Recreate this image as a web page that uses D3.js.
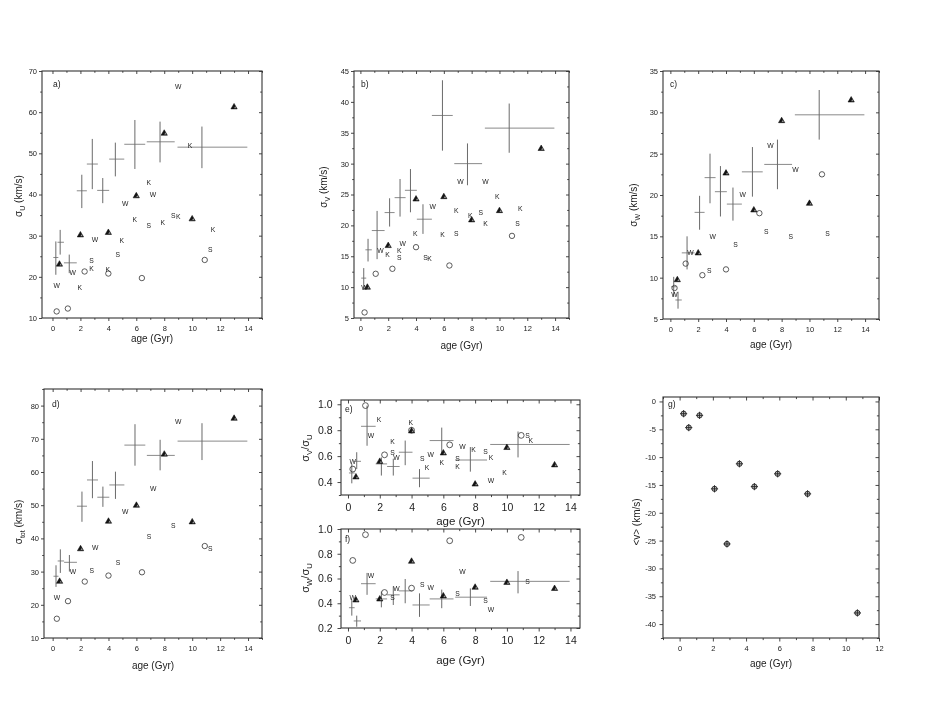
<!DOCTYPE html>
<html><head><meta charset="utf-8">
<script src="https://cdn.jsdelivr.net/npm/d3@7"></script>
<style>
body{margin:0;background:#fff}
svg{display:block;will-change:transform}
text{font-family:"Liberation Sans",Arial,sans-serif;fill:#222;-webkit-font-smoothing:antialiased}
</style>
</head><body>
<svg id="chart" width="926" height="708"></svg>
<script>
// ---- age bins (crosses) ----
const binAge = [0.24, 0.55, 1.2, 2.1, 2.85, 3.6, 4.5, 5.9, 7.7, 10.7];
const binLo  = [0.06, 0.36, 0.82, 1.74, 2.46, 3.2, 4.06, 5.14, 6.75, 8.95];
const binHi  = [0.42, 0.82, 1.74, 2.46, 3.25, 4.06, 5.14, 6.64, 8.75, 13.95];
// ---- other samples' ages ----
const triAge  = [0.5, 2, 4, 6, 8, 10, 13];
const circAge = [0.3, 1.1, 2.3, 4.0, 6.4, 10.9];
const wAge    = [0.3, 1.45, 3.05, 5.2, 7.2, 9.0];
const kAge    = [1.95, 2.8, 3.95, 4.97, 5.9, 6.9, 7.9, 9.0, 9.85, 11.5];
const sAge    = [2.8, 4.68, 6.9, 8.65, 11.3];

// ---- panel a: sigma_U ----
const aBin = [24.7, 28.4, 23.4, 40.9, 47.4, 41.0, 48.6, 52.2, 52.8, 51.5];
const aBinLo = [20.5, 25.4, 20.9, 36.7, 41.3, 37.9, 44.4, 46.2, 47.8, 46.4];
const aBinHi = [28.6, 31.4, 25.4, 44.8, 53.5, 44.0, 52.6, 58.1, 57.7, 56.5];
const aTri = [23.1, 30.2, 30.8, 39.7, 54.9, 34.1, 61.3];
const aCirc = [11.6, 12.3, 21.3, 20.8, 19.7, 24.1];
const aW = [17.9, 21.1, 29.0, 37.9, 40.1, 66.2];
const aK = [17.3, 22.1, 21.7, 28.8, 33.9, 42.9, 33.3, 34.6, 51.9, 31.5];
const aS = [23.9, 25.5, 32.5, 34.9, 26.6];
// ---- panel b: sigma_V ----
const bBin = [11.46, 16.04, 19.16, 22.07, 24.49, 25.68, 21.0, 37.8, 30.0, 35.75];
const bBinLo = [9.58, 14.15, 14.53, 19.81, 21.42, 22.12, 18.62, 32.1, 26.5, 31.76];
const bBinHi = [13.08, 17.82, 22.34, 24.39, 27.51, 29.12, 23.42, 43.5, 33.27, 39.73];
const bTri = [10.0, 16.74, 24.28, 24.66, 20.9, 22.4, 32.46];
const bCirc = [5.9, 12.16, 12.97, 16.47, 13.5, 18.3];
const bW = [9.95, 15.93, 17.1, 23.0, 27.1, 27.1];
const bK = [15.34, 15.88, 18.62, 14.69, 18.57, 22.4, 21.6, 20.35, 24.65, 22.77];
const bS = [14.85, 14.85, 18.62, 22.07, 20.24];
// ---- panel c: sigma_W ----
const cBin = [8.9, 7.3, 13.0, 17.9, 22.1, 20.4, 18.9, 22.8, 23.7, 29.7];
const cBinLo = [7.7, 6.25, 11.0, 15.8, 19.0, 17.4, 16.9, 19.8, 20.7, 26.7];
const cBinHi = [10.1, 8.3, 15.0, 19.9, 25.0, 23.5, 20.9, 25.8, 26.7, 32.7];
const cTri = [9.76, 13.0, 22.66, 18.2, 29.0, 19.0, 31.5];
const cCirc = [8.75, 11.7, 10.3, 11.0, 17.8, 22.5];
const cW = [8.0, 13.0, 15.0, 20.0, 26.0, 23.1];
const cS = [10.9, 14.0, 15.6, 15.0, 15.3];
// ---- panel d: sigma_tot ----
const dBin = [28.6, 33.2, 32.8, 49.7, 57.6, 52.4, 56.1, 68.1, 65.0, 69.3];
const dBinLo = [25.4, 29.6, 30.0, 45.0, 52.1, 49.5, 51.9, 61.9, 60.5, 63.6];
const dBinHi = [31.9, 36.7, 35.0, 54.1, 63.3, 55.6, 60.1, 74.4, 69.7, 74.7];
const dTri = [27.1, 36.9, 45.2, 50.0, 65.4, 45.0, 76.2];
const dCirc = [15.8, 21.1, 27.0, 28.8, 29.8, 37.7];
const dW = [22.1, 30.1, 37.2, 48.2, 54.9, 75.2];
const dS = [30.4, 32.6, 40.7, 43.8, 36.8];
// ---- panel e: sigma_V / sigma_U ----
const eBin = [0.47, 0.56, 0.83, 0.54, 0.52, 0.63, 0.43, 0.72, 0.57, 0.69];
const eBinLo = [0.39, 0.50, 0.68, 0.45, 0.45, 0.53, 0.36, 0.62, 0.48, 0.59];
const eBinHi = [0.54, 0.63, 0.99, 0.59, 0.58, 0.72, 0.50, 0.82, 0.67, 0.79];
const eTri = [0.44, 0.56, 0.795, 0.625, 0.385, 0.667, 0.533];
const eCirc = [0.50, 0.99, 0.61, 0.80, 0.687, 0.76];
const eW = [0.556, 0.76, 0.59, 0.61, 0.677, 0.41];
const eK = [0.885, 0.715, 0.86, 0.51, 0.55, 0.52, 0.65, 0.587, 0.474, 0.72];
const eS = [0.625, 0.58, 0.58, 0.633, 0.76];
// ---- panel f: sigma_W / sigma_U ----
const fBin = [0.364, 0.257, 0.558, 0.435, 0.468, 0.50, 0.386, 0.435, 0.449, 0.577];
const fBinLo = [0.30, 0.21, 0.468, 0.367, 0.386, 0.40, 0.29, 0.36, 0.378, 0.48];
const fBinHi = [0.43, 0.30, 0.645, 0.495, 0.536, 0.596, 0.48, 0.51, 0.52, 0.66];
const fTri = [0.427, 0.435, 0.74, 0.46, 0.53, 0.569, 0.52];
const fCirc = [0.746, 0.954, 0.487, 0.522, 0.905, 0.932];
const fW = [0.446, 0.62, 0.52, 0.53, 0.654, 0.35];
const fS = [0.45, 0.55, 0.48, 0.42, 0.577];
// ---- panel g: mean V ----
const gV = [-2.2, -4.7, -2.5, -15.7, -25.6, -11.2, -15.3, -13.0, -16.6, -38.0];

// ---- tick values ----
const xTicks14 = [0, 2, 4, 6, 8, 10, 12, 14];
const xTicks12 = [0, 2, 4, 6, 8, 10, 12];

const svg = d3.select("#chart");
const FONT = '"Liberation Sans",Arial,sans-serif';

function addAxes(g, x, y, o) {
  const [l, r, t, b] = [o.l, o.r, o.t, o.b];
  const xMinor = d3.range(Math.ceil(o.xd[0]), Math.floor(o.xd[1]) + 0.001, 1).filter(v => !o.xt.includes(v));
  const yMinor = d3.range(o.yMinorStart, o.yd[1] + 1e-9, o.yMinorStep).filter(v => !o.yt.some(t2 => Math.abs(t2 - v) < 1e-9) && v >= o.yd[0] - 1e-9);
  const fmtY = o.yfmt || (d => d);
  g.append("g").attr("transform", `translate(0,${b})`)
    .call(d3.axisBottom(x).tickValues(o.xt).tickSize(o.ts).tickPadding(o.xpad).tickFormat(d => d));
  g.append("g").attr("transform", `translate(0,${b})`)
    .call(d3.axisBottom(x).tickValues(xMinor).tickSize(o.ts * 0.6).tickFormat(""));
  g.append("g").attr("transform", `translate(0,${t})`)
    .call(d3.axisBottom(x).tickValues(o.xt).tickSize(o.ts).tickFormat(""));
  g.append("g").attr("transform", `translate(0,${t})`)
    .call(d3.axisBottom(x).tickValues(xMinor).tickSize(o.ts * 0.6).tickFormat(""));
  g.append("g").attr("transform", `translate(${l},0)`)
    .call(d3.axisLeft(y).tickValues(o.yt).tickSize(o.ts).tickPadding(o.ypad).tickFormat(fmtY));
  g.append("g").attr("transform", `translate(${l},0)`)
    .call(d3.axisLeft(y).tickValues(yMinor).tickSize(o.ts * 0.6).tickFormat(""));
  g.append("g").attr("transform", `translate(${r},0)`)
    .call(d3.axisLeft(y).tickValues(o.yt).tickSize(o.ts).tickFormat(""));
  g.append("g").attr("transform", `translate(${r},0)`)
    .call(d3.axisLeft(y).tickValues(yMinor).tickSize(o.ts * 0.6).tickFormat(""));
  g.selectAll(".domain").remove();
  g.selectAll(".tick line").attr("stroke", "#333").attr("stroke-width", 0.9);
  g.selectAll(".tick text").attr("font-family", FONT).attr("fill", "#222").attr("font-size", o.tfs);
  g.append("rect").attr("x", l).attr("y", t).attr("width", r - l).attr("height", b - t)
    .attr("fill", "none").attr("stroke", "#333").attr("stroke-width", 1.1);
}

function triPath(cx, cy, s) {
  const h = s * 0.87;
  return `M${cx},${cy - h * 0.62}L${cx + s / 2},${cy + h * 0.38}L${cx - s / 2},${cy + h * 0.38}Z`;
}

function drawPanel(o) {
  const g = svg.append("g");
  const x = d3.scaleLinear().domain(o.xd).range([o.l, o.r]);
  const y = d3.scaleLinear().domain(o.yd).range([o.b, o.t]);
  addAxes(g, x, y, o);
  const m = g.append("g");
  if (o.bin) {
    binAge.forEach((a, i) => {
      m.append("line").attr("x1", x(binLo[i])).attr("x2", x(binHi[i]))
        .attr("y1", y(o.bin[i])).attr("y2", y(o.bin[i]))
        .attr("stroke", "#8a8a8a").attr("stroke-width", 1);
      m.append("line").attr("x1", x(a)).attr("x2", x(a))
        .attr("y1", y(o.binLo[i])).attr("y2", y(o.binHi[i]))
        .attr("stroke", "#6a6a6a").attr("stroke-width", 1);
    });
  }
  if (o.circ) {
    m.selectAll(null).data(o.circ).enter().append("circle")
      .attr("cx", (d, i) => x(circAge[i])).attr("cy", d => y(d)).attr("r", o.cr)
      .attr("fill", "none").attr("stroke", "#333").attr("stroke-width", 0.8);
  }
  if (o.tri) {
    o.tri.forEach((v, i) => {
      const cx = x(triAge[i]), cy = y(v);
      m.append("path").attr("d", triPath(cx, cy, 6.3)).attr("fill", "#151515").attr("stroke", "#000").attr("stroke-width", 0.5);
      m.append("path").attr("d", triPath(cx + 1.1, cy + 0.6, 2.2)).attr("fill", "#9a9a9a");
    });
  }
  const letters = (vals, ages, ch) => {
    if (!vals) return;
    m.selectAll(null).data(vals).enter().append("text")
      .attr("x", (d, i) => x(ages[i])).attr("y", d => y(d)).attr("dy", "0.36em")
      .attr("text-anchor", "middle").attr("font-size", o.lfs).attr("fill", "#333").text(ch);
  };
  letters(o.W, wAge, "W");
  letters(o.K, kAge, "K");
  letters(o.S, sAge, "S");
  if (o.gpts) {
    o.gpts.forEach((v, i) => {
      const cx = x(binAge[i]), cy = y(v);
      m.append("circle").attr("cx", cx).attr("cy", cy).attr("r", 2.6).attr("fill", "#bbb").attr("stroke", "#222").attr("stroke-width", 0.9);
      m.append("line").attr("x1", cx - 3.6).attr("x2", cx + 3.6).attr("y1", cy).attr("y2", cy).attr("stroke", "#222").attr("stroke-width", 0.9);
      m.append("line").attr("x1", cx).attr("x2", cx).attr("y1", cy - 3.6).attr("y2", cy + 3.6).attr("stroke", "#222").attr("stroke-width", 0.9);
    });
  }
  g.append("text").attr("x", o.pl[0]).attr("y", o.pl[1]).attr("font-size", o.plfs || 8.5).text(o.name);
  g.append("text").attr("x", (o.l + o.r) / 2).attr("y", o.xty).attr("text-anchor", "middle")
    .attr("dy", "0.36em").attr("font-size", o.xtfs).text("age (Gyr)");
  const yt = g.append("text").attr("transform", `translate(${o.ytx},${o.yty}) rotate(-90)`)
    .attr("text-anchor", "middle").attr("font-size", o.ytfs);
  o.ylab.forEach(p => {
    const ts = yt.append("tspan").text(p[0]);
    if (p[1] === "sub") ts.attr("font-size", o.ytfs * 0.7).attr("dy", o.ytfs * 0.3);
    if (p[1] === "up") ts.attr("dy", -o.ytfs * 0.3);
  });
}

const common = { ts: 3, xpad: 4.5, ypad: 2, tfs: 7.5, lfs: 6.8, cr: 2.7, xt: xTicks14 };

drawPanel(Object.assign({}, common, {
  name: "a)", l: 42, r: 262, t: 71, b: 318, xd: [-0.75, 15], yd: [10, 70],
  yt: [10, 20, 30, 40, 50, 60, 70], yMinorStart: 10, yMinorStep: 5,
  bin: aBin, binLo: aBinLo, binHi: aBinHi, tri: aTri, circ: aCirc, W: aW, K: aK, S: aS,
  pl: [53, 87], xty: 338, xtfs: 10, ytx: 22, yty: 196, ytfs: 10,
  ylab: [["σ"], ["U", "sub"], ["  (km/s)", "up"]]
}));
drawPanel(Object.assign({}, common, {
  name: "b)", l: 354, r: 569, t: 71, b: 318, xd: [-0.46, 15], yd: [5, 45],
  yt: [5, 10, 15, 20, 25, 30, 35, 40, 45], yMinorStart: 5, yMinorStep: 2.5,
  bin: bBin, binLo: bBinLo, binHi: bBinHi, tri: bTri, circ: bCirc, W: bW, K: bK, S: bS,
  pl: [361, 87], xty: 345, xtfs: 10, ytx: 327, yty: 187, ytfs: 10,
  ylab: [["σ"], ["V", "sub"], ["  (km/s)", "up"]]
}));
drawPanel(Object.assign({}, common, {
  name: "c)", l: 663, r: 879, t: 71, b: 319, xd: [-0.53, 15], yd: [5, 35],
  yt: [5, 10, 15, 20, 25, 30, 35], yMinorStart: 5, yMinorStep: 2.5,
  bin: cBin, binLo: cBinLo, binHi: cBinHi, tri: cTri, circ: cCirc, W: cW, S: cS,
  pl: [670, 87], xty: 344, xtfs: 10, ytx: 637, yty: 205, ytfs: 10,
  ylab: [["σ"], ["W", "sub"], ["  (km/s)", "up"]]
}));
drawPanel(Object.assign({}, common, {
  name: "d)", l: 44, r: 262, t: 389, b: 638, xd: [-0.62, 15], yd: [10, 85],
  yt: [10, 20, 30, 40, 50, 60, 70, 80], yMinorStart: 10, yMinorStep: 5,
  bin: dBin, binLo: dBinLo, binHi: dBinHi, tri: dTri, circ: dCirc, W: dW, S: dS,
  pl: [52, 407], xty: 665, xtfs: 10, ytx: 22, yty: 522, ytfs: 10,
  ylab: [["σ"], ["tot", "sub"], ["  (km/s)", "up"]]
}));
drawPanel(Object.assign({}, common, {
  name: "e)", l: 341, r: 580, t: 400, b: 495, xd: [-0.44, 14.6], yd: [0.3, 1.033],
  yt: [0.4, 0.6, 0.8, 1.0], yMinorStart: 0.3, yMinorStep: 0.1, yfmt: d3.format(".1f"),
  xpad: 5, ypad: 5, ts: 3.5, tfs: 10.5, lfs: 6.8, cr: 2.9,
  bin: eBin, binLo: eBinLo, binHi: eBinHi, tri: eTri, circ: eCirc, W: eW, K: eK, S: eS,
  pl: [345, 412], plfs: 8.5, xty: 521, xtfs: 11.5, ytx: 309, yty: 448, ytfs: 11,
  ylab: [["σ"], ["V", "sub"], ["/σ", "up"], ["U", "sub"]]
}));
drawPanel(Object.assign({}, common, {
  name: "f)", l: 341, r: 580, t: 529, b: 628, xd: [-0.44, 14.6], yd: [0.2, 1.0],
  yt: [0.2, 0.4, 0.6, 0.8, 1.0], yMinorStart: 0.3, yMinorStep: 0.2, yfmt: d3.format(".1f"),
  xpad: 5, ypad: 5, ts: 3.5, tfs: 10.5, lfs: 6.8, cr: 2.9,
  bin: fBin, binLo: fBinLo, binHi: fBinHi, tri: fTri, circ: fCirc, W: fW, S: fS,
  pl: [345, 542], plfs: 8.5, xty: 660, xtfs: 11.5, ytx: 309, yty: 578, ytfs: 11,
  ylab: [["σ"], ["W", "sub"], ["/σ", "up"], ["U", "sub"]]
}));
drawPanel(Object.assign({}, common, {
  name: "g)", l: 663, r: 879, t: 397, b: 638, xd: [-1, 12], yd: [-42.5, 0.8], xt: xTicks12,
  yt: [-40, -35, -30, -25, -20, -15, -10, -5, 0], yMinorStart: -42.5, yMinorStep: 2.5,
  ts: 3.5, ypad: 3.5, gpts: gV,
  pl: [668, 407], xty: 663, xtfs: 10, ytx: 640, yty: 522, ytfs: 10,
  ylab: [["<v>  (km/s)"]]
}));
</script>
</body></html>
